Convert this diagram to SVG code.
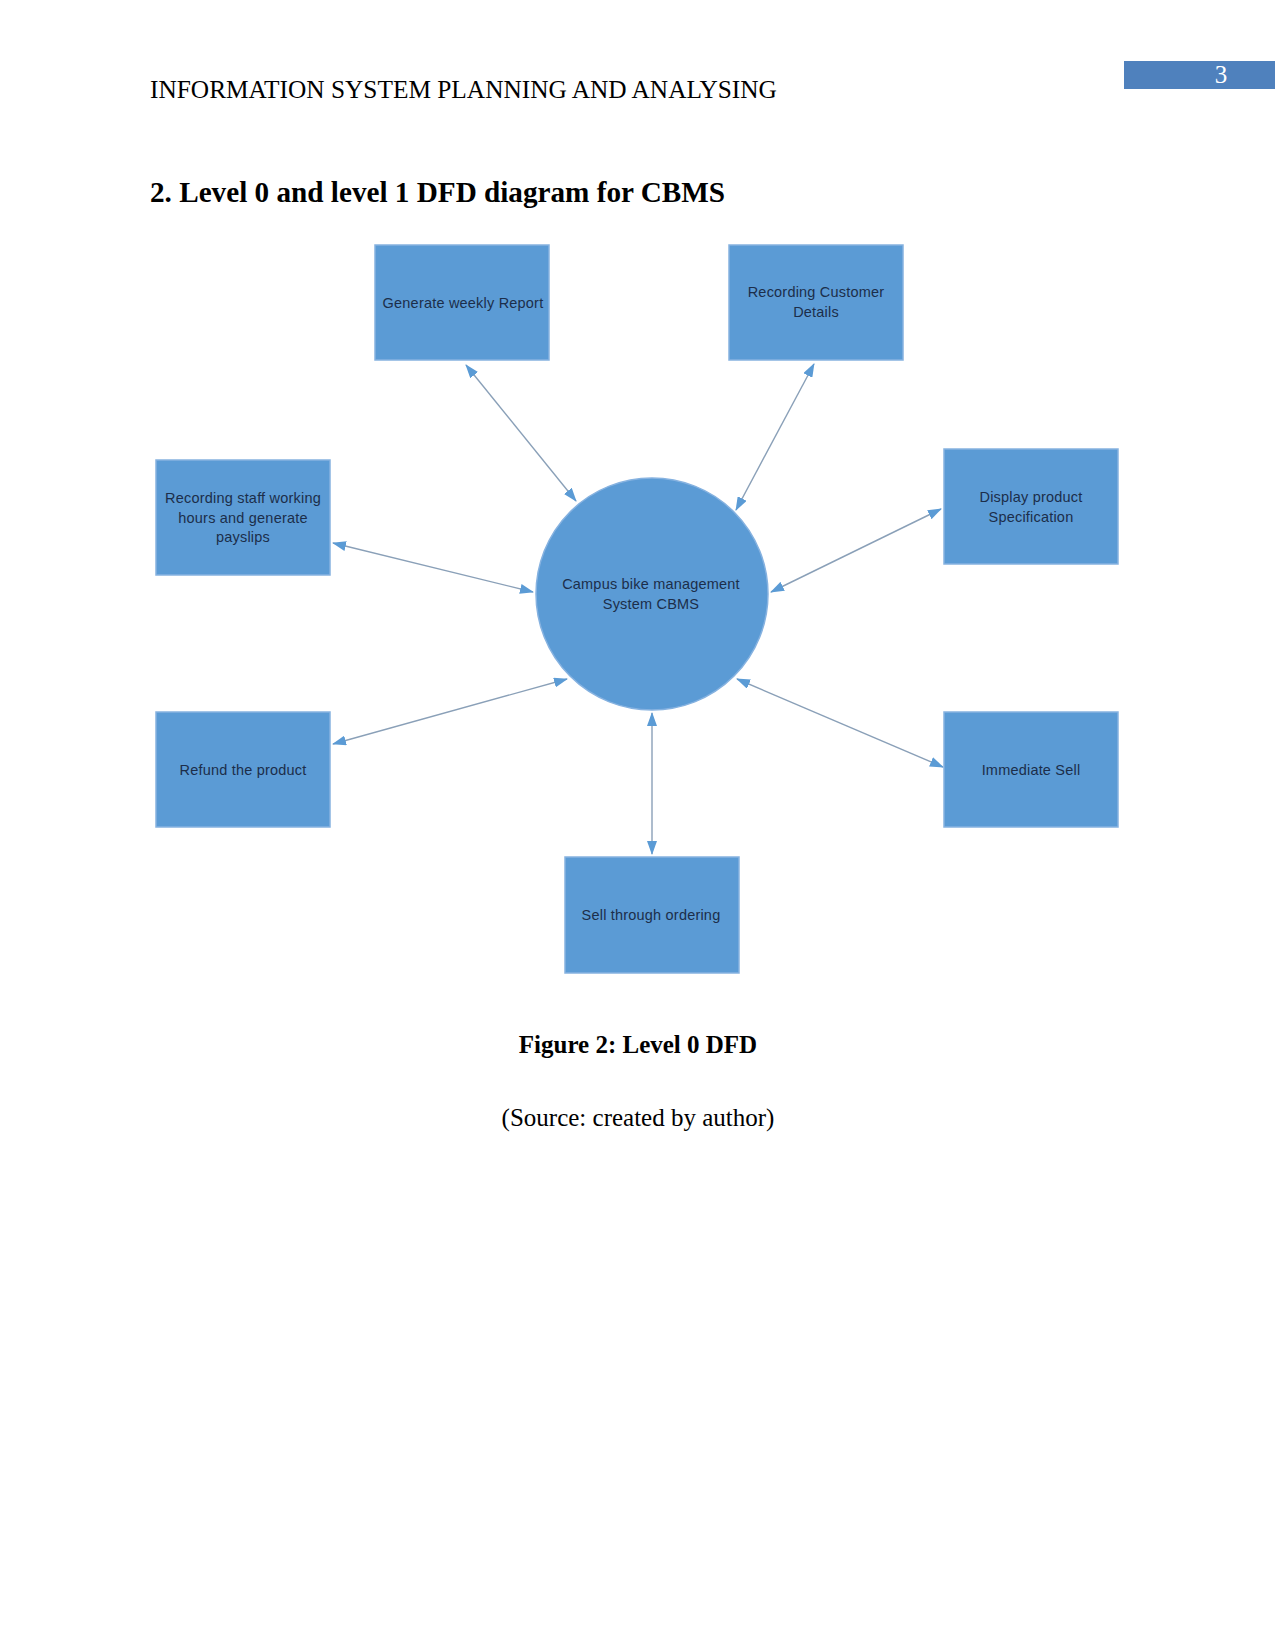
<svg xmlns="http://www.w3.org/2000/svg" width="1275" height="1650" viewBox="0 0 1275 1650">
<style>
.page{fill:#ffffff}
.hdr{font-family:"Liberation Serif","Times New Roman",serif;font-size:25.35px;fill:#000}
.ttl{font-family:"Liberation Serif","Times New Roman",serif;font-size:29.2px;font-weight:bold;fill:#000}
.cap{font-family:"Liberation Serif","Times New Roman",serif;font-size:25px;fill:#000;text-anchor:middle}
.box{fill:#5B9BD5;stroke:#86B2E0;stroke-width:1.5}
.lbl{font-family:"Liberation Sans",Arial,sans-serif;font-size:14.5px;fill:#1C2E4A;text-anchor:middle;letter-spacing:0.2px}
.con{stroke:#8AA0B8;stroke-width:1.4;fill:none;marker-start:url(#ah);marker-end:url(#ah)}
</style>
<defs>
<marker id="ah" viewBox="0 0 14 10" refX="13" refY="5" markerWidth="14" markerHeight="10" markerUnits="userSpaceOnUse" orient="auto-start-reverse">
<path d="M0,0 L14,5 L0,10 z" fill="#5B9BD5"/>
</marker>
</defs>
<rect class="page" x="0" y="0" width="1275" height="1650"/>
<g id="page-number">
<rect x="1124" y="61" width="151" height="28" fill="#4F81BD"/>
<text x="1221" y="83" font-family="Liberation Serif, serif" font-size="25" fill="#ffffff" text-anchor="middle">3</text>
</g>
<text class="hdr" x="150" y="98">INFORMATION SYSTEM PLANNING AND ANALYSING</text>
<text class="ttl" x="150" y="202">2. Level 0 and level 1 DFD diagram for CBMS</text>

<g id="connectors">
<line class="con" x1="466" y1="365" x2="576" y2="501"/>
<line class="con" x1="814" y1="364" x2="736" y2="510"/>
<line class="con" x1="333" y1="543" x2="533" y2="592"/>
<line class="con" x1="941" y1="509" x2="771" y2="592"/>
<line class="con" x1="333" y1="744" x2="567" y2="679"/>
<line class="con" x1="737" y1="679" x2="943" y2="767"/>
<line class="con" x1="652" y1="713" x2="652" y2="854"/>
</g>

<g id="cbms">
<circle cx="652" cy="594" r="116" fill="#5B9BD5" stroke="#86B2E0" stroke-width="1.5"/>
<text class="lbl" x="651" y="589">Campus bike management</text>
<text class="lbl" x="651" y="609">System CBMS</text>
</g>
<g id="weekly-report">
<rect class="box" x="375" y="245" width="174" height="115"/>
<text class="lbl" x="463" y="308">Generate weekly Report</text>
</g>
<g id="customer-details">
<rect class="box" x="729" y="245" width="174" height="115"/>
<text class="lbl" x="816" y="297">Recording Customer</text>
<text class="lbl" x="816" y="317">Details</text>
</g>
<g id="staff-hours">
<rect class="box" x="156" y="460" width="174" height="115"/>
<text class="lbl" x="243" y="503">Recording staff working</text>
<text class="lbl" x="243" y="523">hours and generate</text>
<text class="lbl" x="243" y="542">payslips</text>
</g>
<g id="display-product">
<rect class="box" x="944" y="449" width="174" height="115"/>
<text class="lbl" x="1031" y="502">Display product</text>
<text class="lbl" x="1031" y="522">Specification</text>
</g>
<g id="refund">
<rect class="box" x="156" y="712" width="174" height="115"/>
<text class="lbl" x="243" y="775">Refund the product</text>
</g>
<g id="immediate-sell">
<rect class="box" x="944" y="712" width="174" height="115"/>
<text class="lbl" x="1031" y="775">Immediate Sell</text>
</g>
<g id="sell-ordering">
<rect class="box" x="565" y="857" width="174" height="116"/>
<text class="lbl" x="651" y="920">Sell through ordering</text>
</g>

<text class="cap" x="638" y="1053" font-weight="bold">Figure 2: Level 0 DFD</text>
<text class="cap" x="638" y="1126">(Source: created by author)</text>
</svg>
